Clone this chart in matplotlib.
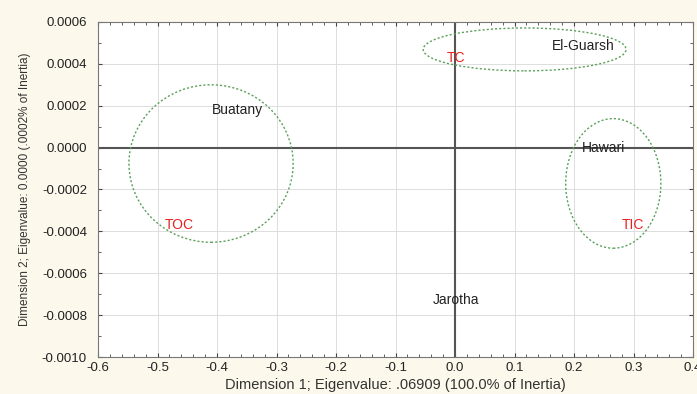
import numpy as np
import matplotlib.pyplot as plt
from matplotlib.patches import Ellipse
from matplotlib.ticker import MultipleLocator, FormatStrFormatter

plt.rcParams['font.family'] = ['Liberation Sans', 'DejaVu Sans']

# point labels (dimension 1, dimension 2)
sites = ["El-Guarsh", "Buatany", "Hawari", "Jarotha"]
sites_x = [0.215, -0.365, 0.249, 0.002]
sites_y = [0.000486, 0.000181, 0.0000, -0.000729]

vars_ = ["TC", "TOC", "TIC"]
vars_x = [0.002, -0.464, 0.299]
vars_y = [0.000429, -0.000371, -0.000371]

# group ellipses: centre x, centre y, width, height
ell_cx = [-0.410, 0.117, 0.266]
ell_cy = [-0.000076, 0.000469, -0.000171]
ell_w = [0.276, 0.341, 0.160]
ell_h = [0.000752, 0.000205, 0.000619]

fig = plt.figure(figsize=(6.97, 3.94), dpi=100, facecolor='#fdf8ec')
ax = fig.add_axes([0.1406, 0.0939, 0.8537, 0.8503])
ax.set_facecolor('white')

ax.set_xlim(-0.6, 0.4)
ax.set_ylim(-0.0010, 0.0006)
ax.xaxis.set_major_locator(MultipleLocator(0.1))
ax.xaxis.set_minor_locator(MultipleLocator(0.02))
ax.yaxis.set_major_locator(MultipleLocator(0.0002))
ax.yaxis.set_minor_locator(MultipleLocator(0.0001))
ax.xaxis.set_major_formatter(FormatStrFormatter('%.1f'))
ax.yaxis.set_major_formatter(FormatStrFormatter('%.4f'))
ax.tick_params(which='both', direction='in', top=True, right=True,
               labelsize=9.5, colors='#444444', labelcolor='#222222')
ax.tick_params(which='major', length=3)
ax.tick_params(which='minor', length=2)
ax.tick_params(axis='y', pad=8)
ax.grid(True, which='major', color='#dddddd', lw=0.7)
ax.set_axisbelow(True)
for s in ax.spines.values():
    s.set_color('#777777')

ax.axhline(0, color='#555555', lw=1.5, zorder=1)
ax.axvline(0, color='#555555', lw=1.5, zorder=1)

for cx, cy, w, h in zip(ell_cx, ell_cy, ell_w, ell_h):
    ax.add_patch(Ellipse((cx, cy), w, h, fill=False, ec='#5aa05a',
                         ls=(0, (1.5, 1.5)), lw=1.0, zorder=2))

for name, x, y in zip(sites, sites_x, sites_y):
    ax.text(x, y, name, ha='center', va='center', fontsize=10,
            color='#222222', zorder=3)
for name, x, y in zip(vars_, vars_x, vars_y):
    ax.text(x, y, name, ha='center', va='center', fontsize=10,
            color='#e82020', zorder=3)

ax.set_xlabel('Dimension 1; Eigenvalue: .06909 (100.0% of Inertia)',
              fontsize=10.5, color='#333333', labelpad=3)
ax.set_ylabel('Dimension 2; Eigenvalue: 0.0000 (.0002% of Inertia)',
              fontsize=8.5, color='#333333', labelpad=8)

fig.savefig('out.png', dpi=100, facecolor=fig.get_facecolor())
